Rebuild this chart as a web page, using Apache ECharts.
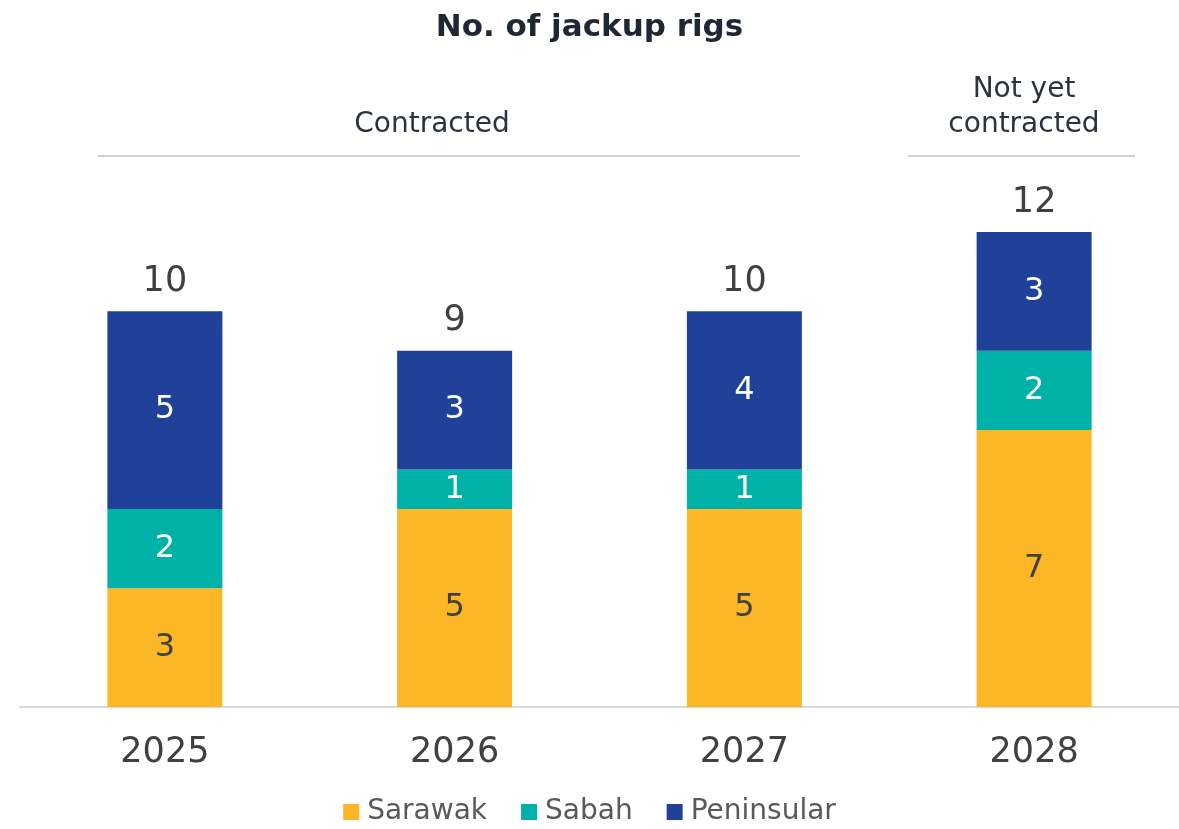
<!DOCTYPE html>
<html>
<head>
<meta charset="utf-8">
<script src="https://cdn.jsdelivr.net/npm/echarts@6/dist/echarts.min.js"></script>
<style>
  html, body { margin: 0; padding: 0; background: #fff; }
  #chart { width: 1179px; height: 829px; }
</style>
</head>
<body>
<div id="chart"></div>
<script>
const years = ['2025', '2026', '2027', '2028'];
const sarawak = [3, 5, 5, 7];
const sabah = [2, 1, 1, 2];
const peninsular = [5, 3, 4, 3];
const totals = [10, 9, 10, 12];

const font = 'DejaVu Sans';

const chart = echarts.init(document.getElementById('chart'));

const barBase = {
    type: 'bar',
    stack: 'rigs',
    barWidth: 115,
    label: {
        show: true,
        position: 'inside',
        fontFamily: font,
        fontSize: 32
    }
};

chart.setOption({
    animation: false,
    title: {
        text: 'No. of jackup rigs',
        left: 'center',
        top: 7,
        textStyle: {
            fontFamily: font,
            fontSize: 31,
            fontWeight: 'bold',
            color: '#1e2733'
        }
    },
    legend: {
        data: ['Sarawak', 'Sabah', 'Peninsular'],
        bottom: -2,
        left: 'center',
        itemWidth: 16,
        itemHeight: 16,
        itemGap: 34,
        icon: 'rect',
        textStyle: {
            fontFamily: font,
            fontSize: 28,
            color: '#595959',
            padding: [0, 0, 0, 3]
        }
    },
    grid: {
        left: 20,
        right: -1,
        top: 232,
        bottom: 122
    },
    xAxis: {
        type: 'category',
        data: years,
        axisTick: { show: false },
        axisLine: { lineStyle: { color: '#d9d9d9', width: 2 } },
        axisLabel: {
            margin: 28,
            fontFamily: font,
            fontSize: 35,
            color: '#404040'
        }
    },
    yAxis: {
        type: 'value',
        min: 0,
        max: 12,
        show: false,
        splitLine: { show: false }
    },
    graphic: [
        {
            type: 'text',
            x: 432, y: 125,
            style: {
                text: 'Contracted',
                fontFamily: font, fontSize: 28, fill: '#2b3340',
                align: 'center', verticalAlign: 'middle'
            }
        },
        {
            type: 'line',
            shape: { x1: 98, y1: 156, x2: 800, y2: 156 },
            style: { stroke: '#cfcfcf', lineWidth: 2 }
        },
        {
            type: 'text',
            x: 1024, y: 107,
            style: {
                text: 'Not yet\ncontracted',
                fontFamily: font, fontSize: 28, fill: '#2b3340',
                lineHeight: 35,
                align: 'center', verticalAlign: 'middle'
            }
        },
        {
            type: 'line',
            shape: { x1: 908, y1: 156, x2: 1135, y2: 156 },
            style: { stroke: '#cfcfcf', lineWidth: 2 }
        }
    ],
    series: [
        Object.assign({}, barBase, {
            name: 'Sarawak',
            data: sarawak,
            itemStyle: { color: '#fbb726' },
            label: Object.assign({}, barBase.label, { color: '#404040' })
        }),
        Object.assign({}, barBase, {
            name: 'Sabah',
            data: sabah,
            itemStyle: { color: '#00b1a8' },
            label: Object.assign({}, barBase.label, { color: '#ffffff' })
        }),
        Object.assign({}, barBase, {
            name: 'Peninsular',
            data: peninsular,
            itemStyle: { color: '#20419a' },
            label: Object.assign({}, barBase.label, { color: '#ffffff' })
        }),
        {
            type: 'bar',
            name: 'Total',
            stack: 'rigs',
            barWidth: 115,
            data: totals.map(function () { return 0; }),
            itemStyle: { color: 'transparent' },
            label: {
                show: true,
                position: 'top',
                distance: 12,
                fontFamily: font,
                fontSize: 35,
                color: '#404040',
                formatter: function (p) { return totals[p.dataIndex]; }
            }
        }
    ]
});
</script>
</body>
</html>
